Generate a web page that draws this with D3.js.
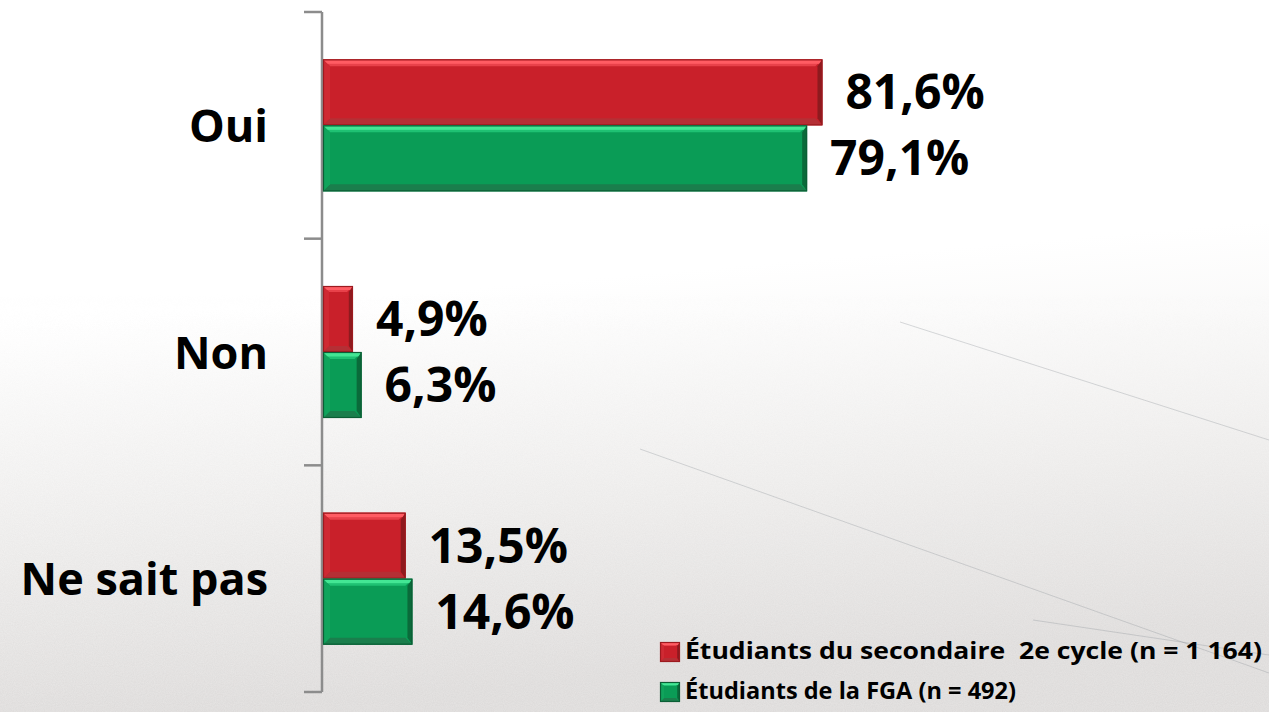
<!DOCTYPE html>
<html><head><meta charset="utf-8">
<script src="https://cdn.jsdelivr.net/npm/d3@7"></script>
<style>
html,body{margin:0;padding:0;background:#fff;}
svg{display:block;}
text{font-family:"Open Sans",Lato,sans-serif;font-weight:bold;fill:#000;}
</style></head>
<body><svg id="chart" width="1269" height="712"></svg>
<script>
const categories = ["Oui", "Non", "Ne sait pas"];
const seriesNames = ["Étudiants du secondaire  2e cycle (n = 1 164)", "Étudiants de la FGA (n = 492)"];
const secondaire = [81.6, 4.9, 13.5];
const fga = [79.1, 6.3, 14.6];
const valueLabels = [["81,6%", "4,9%", "13,5%"], ["79,1%", "6,3%", "14,6%"]];

const W = 1269, H = 712;
const svg = d3.select("#chart");
const defs = svg.append("defs");

// background
const bg = defs.append("linearGradient").attr("id","bg").attr("x1",0).attr("y1",0).attr("x2",0.15).attr("y2",1);
bg.append("stop").attr("offset","0%").attr("stop-color","#ffffff");
bg.append("stop").attr("offset","45%").attr("stop-color","#ffffff");
bg.append("stop").attr("offset","75%").attr("stop-color","#f2f1f0");
bg.append("stop").attr("offset","100%").attr("stop-color","#e6e4e3");
svg.append("rect").attr("width",W).attr("height",H).attr("fill","url(#bg)");

const noise = defs.append("filter").attr("id","noise").attr("x",0).attr("y",0).attr("width","100%").attr("height","100%");
noise.append("feTurbulence").attr("type","fractalNoise").attr("baseFrequency","0.9").attr("numOctaves",2).attr("seed",3);
noise.append("feColorMatrix").attr("type","matrix").attr("values","0 0 0 0 0.45  0 0 0 0 0.44  0 0 0 0 0.44  0 0 0 0.35 0");
const mask = defs.append("linearGradient").attr("id","maskg").attr("x1",0).attr("y1",0).attr("x2",0).attr("y2",1);
mask.append("stop").attr("offset","40%").attr("stop-color","#000");
mask.append("stop").attr("offset","100%").attr("stop-color","#fff");
defs.append("mask").attr("id","bgmask").append("rect").attr("width",W).attr("height",H).attr("fill","url(#maskg)");
svg.append("rect").attr("width",W).attr("height",H).attr("filter","url(#noise)").attr("mask","url(#bgmask)").attr("opacity",0.6);

// faint diagonal lines in texture
const texLines = [[[640,449],[1269,673]],[[900,322],[1269,440]],[[1033,620],[1269,655]]];
svg.append("g").selectAll("path").data(texLines).join("path")
  .attr("d", d => d3.line()(d)).attr("stroke","#8f969c").attr("stroke-opacity",0.35).attr("stroke-width",1).attr("fill","none");

// scales
const x = d3.scaleLinear().domain([0,100]).range([323, 935]);
const y = d3.scaleBand().domain(categories).range([12, 692]).padding(0);
const barH = 66;

// axis
const gAxis = svg.append("g");
gAxis.append("line").attr("x1",322).attr("x2",322).attr("y1",12).attr("y2",692).attr("stroke","#8c8c8c").attr("stroke-width",2.5);
const tickYs = [y.range()[0], ...categories.map(c => y(c) + y.bandwidth())];
gAxis.selectAll("line.tick").data(tickYs).join("line").attr("class","tick")
  .attr("x1",304).attr("x2",322).attr("y1",d=>d).attr("y2",d=>d).attr("stroke","#8c8c8c").attr("stroke-width",2.5);

// category labels
svg.append("g").selectAll("text").data(categories).join("text")
  .attr("x",268).attr("y",d => y(d) + y.bandwidth()/2 + 16.5)
  .attr("text-anchor","end").style("font-size","45px").text(d=>d);

const pal = [
  {main:"#c9202a", top:"#ff5c63", top2:"#e8414a", bot:"#b52f35", left:"#cf2a33", right:"#8e1a1e", border:"#9c1a1f"},
  {main:"#0a9c56", top:"#43e694", top2:"#1fc173", bot:"#1a7e4c", left:"#10a45c", right:"#0a6a3a", border:"#0b5e35"}
];

function bevelBar(g, x0, y0, w, h, c) {
  const b = Math.min(7, w/5, h/4);
  const x1 = x0 + w, y1 = y0 + h;
  g.append("rect").attr("x",x0).attr("y",y0).attr("width",w).attr("height",h).attr("fill",c.main);
  const poly = (pts, fill) => g.append("polygon").attr("points", pts.map(p=>p.join(",")).join(" ")).attr("fill", fill);
  poly([[x0,y0],[x1,y0],[x1-b,y0+b],[x0+b,y0+b]], c.top2);
  g.append("rect").attr("x",x0+1).attr("y",y0+1).attr("width",Math.max(0,w-2)).attr("height",Math.max(2,b*0.5)).attr("fill",c.top);
  poly([[x0,y1],[x1,y1],[x1-b,y1-b],[x0+b,y1-b]], c.bot);
  poly([[x0,y0],[x0+b,y0+b],[x0+b,y1-b],[x0,y1]], c.left);
  poly([[x1,y0],[x1-b*0.7,y0+b],[x1-b*0.7,y1-b],[x1,y1]], c.right);
  g.append("rect").attr("x",x0+0.5).attr("y",y0+0.5).attr("width",w-1).attr("height",h-1).attr("fill","none").attr("stroke",c.border).attr("stroke-width",1.2);
}

const series = [secondaire, fga];
const gBars = svg.append("g");
series.forEach((vals, si) => {
  vals.forEach((v, ci) => {
    const cy = y(categories[ci]) + y.bandwidth()/2;
    const y0 = si === 0 ? cy - barH : cy;
    bevelBar(gBars, x(0), y0, x(v) - x(0), barH, pal[si]);
    gBars.append("text").attr("x", x(v) + 23).attr("y", y0 + barH/2 + 17)
      .style("font-size","48px").text(valueLabels[si][ci]);
  });
});

// legend
const legY = [642, 682];
const lg = svg.append("g");
seriesNames.forEach((name, i) => {
  bevelBar(lg, 660, legY[i], 20, 20, pal[i]);
  lg.append("text").attr("x",685).attr("y",legY[i]+17).style("font-size","23px").style("white-space","pre")
    .attr("textLength", i===0 ? 577 : 331).attr("lengthAdjust","spacingAndGlyphs").text(name);
});
</script></body></html>
